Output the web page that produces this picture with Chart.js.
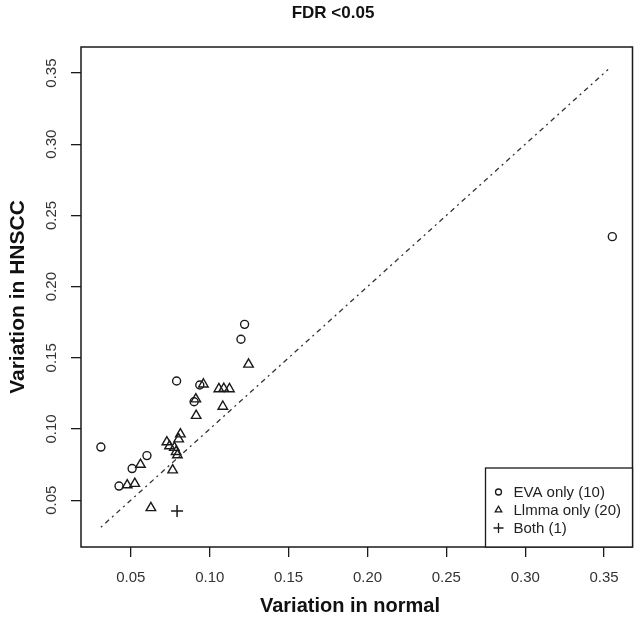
<!DOCTYPE html>
<html>
<head>
<meta charset="utf-8">
<script src="https://cdn.jsdelivr.net/npm/chart.js@4/dist/chart.umd.min.js"></script>
<style>
  html, body { margin: 0; padding: 0; background: #fff; }
  #wrap { width: 640px; height: 621px; }
</style>
</head>
<body>
<div id="wrap"><canvas id="chart" width="640" height="621"></canvas></div>
<script>
// tick labels
const xTicks = [0.05, 0.10, 0.15, 0.20, 0.25, 0.30, 0.35];
const yTicks = [0.05, 0.10, 0.15, 0.20, 0.25, 0.30, 0.35];

// EVA only (10)
const evaX = [0.1221, 0.1198, 0.0790, 0.0937, 0.0901, 0.0310, 0.0602, 0.0508, 0.0425, 0.3552];
const evaY = [0.1735, 0.1630, 0.1337, 0.1309, 0.1191, 0.0873, 0.0813, 0.0722, 0.0599, 0.2351];

// Llmma only (20)
const limmaX = [0.1246, 0.0960, 0.1058, 0.1089, 0.1125, 0.0912, 0.1083, 0.0914, 0.0814, 0.0803,
                0.0728, 0.0745, 0.0776, 0.0787, 0.0561, 0.0765, 0.0477, 0.0525, 0.0627, 0.0795];
const limmaY = [0.1454, 0.1314, 0.1281, 0.1284, 0.1281, 0.1210, 0.1158, 0.1094, 0.0964, 0.0929,
                0.0908, 0.0880, 0.0869, 0.0840, 0.0750, 0.0711, 0.0606, 0.0616, 0.0446, 0.0817];

// Both (1)
const bothX = [0.0793];
const bothY = [0.0423];

// y = x reference line
const diagX = [0.031, 0.3525];
const diagY = [0.031, 0.3525];

const legendLabels = ['EVA only (10)', 'Llmma only (20)', 'Both (1)'];

const toPoints = (xs, ys) => xs.map((x, i) => ({ x: x, y: ys[i] }));
const FONT = '"Liberation Sans", Arial, Helvetica, sans-serif';
const INK = '#1a1a1a';

const framePlugin = {
  id: 'frame',
  afterDraw(chart) {
    const ctx = chart.ctx;
    const a = chart.chartArea;
    const yScale = chart.scales.y;
    ctx.save();

    // plot box
    ctx.strokeStyle = INK;
    ctx.lineWidth = 1.5;
    ctx.strokeRect(a.left, a.top, a.right - a.left, a.bottom - a.top);

    // y tick labels, rotated like R
    ctx.fillStyle = '#333';
    ctx.font = '15px ' + FONT;
    ctx.textAlign = 'center';
    ctx.textBaseline = 'middle';
    yTicks.forEach(v => {
      const py = yScale.getPixelForValue(v);
      ctx.save();
      ctx.translate(52, py);
      ctx.rotate(-Math.PI / 2);
      ctx.fillText(v.toFixed(2), 0, 0);
      ctx.restore();
    });

    // titles
    ctx.fillStyle = '#111';
    ctx.font = 'bold 17px ' + FONT;
    ctx.fillText('FDR <0.05', 333, 13);
    ctx.font = 'bold 20px ' + FONT;
    ctx.fillText('Variation in normal', 350, 606);
    ctx.save();
    ctx.translate(18, (a.top + a.bottom) / 2);
    ctx.rotate(-Math.PI / 2);
    ctx.font = 'bold 21px ' + FONT;
    ctx.fillText('Variation in HNSCC', 0, 0);
    ctx.restore();

    // legend box in bottom right corner
    const lw = 147, lh = 79;
    const lx = a.right - lw, ly = a.bottom - lh;
    ctx.fillStyle = '#fff';
    ctx.fillRect(lx, ly, lw, lh);
    ctx.strokeStyle = INK;
    ctx.lineWidth = 1.3;
    ctx.strokeRect(lx, ly, lw, lh);

    const styles = ['circle', 'triangle', 'cross'];
    const radii = [3, 3.8, 5];
    ctx.font = '15px ' + FONT;
    ctx.textAlign = 'left';
    legendLabels.forEach((label, i) => {
      const cy = ly + 24 + i * 18;
      ctx.fillStyle = 'rgba(0,0,0,0)';
      ctx.strokeStyle = INK;
      Chart.helpers.drawPoint(ctx, {
        pointStyle: styles[i], radius: radii[i], borderWidth: 1.3
      }, lx + 13, cy);
      ctx.fillStyle = '#222';
      ctx.fillText(label, lx + 28, cy + 1);
    });
    ctx.restore();
  }
};

const axisCommon = {
  type: 'linear',
  grid: { drawOnChartArea: false, drawTicks: true, tickLength: 10, color: INK, lineWidth: 1.3 },
  border: { display: false }
};

new Chart(document.getElementById('chart'), {
  type: 'scatter',
  data: {
    datasets: [
      {
        label: 'diag',
        data: toPoints(diagX, diagY),
        showLine: true,
        pointRadius: 0,
        borderColor: '#333',
        borderWidth: 1.3,
        borderDash: [2, 4, 5, 4]
      },
      {
        label: legendLabels[0],
        data: toPoints(evaX, evaY),
        pointStyle: 'circle',
        pointRadius: 4,
        borderColor: INK,
        backgroundColor: 'rgba(0,0,0,0)',
        borderWidth: 1.4
      },
      {
        label: legendLabels[1],
        data: toPoints(limmaX, limmaY),
        pointStyle: 'triangle',
        pointRadius: 5.5,
        borderColor: INK,
        backgroundColor: 'rgba(0,0,0,0)',
        borderWidth: 1.4
      },
      {
        label: legendLabels[2],
        data: toPoints(bothX, bothY),
        pointStyle: 'cross',
        pointRadius: 6,
        borderColor: INK,
        borderWidth: 1.5
      }
    ]
  },
  options: {
    responsive: false,
    animation: false,
    devicePixelRatio: 1,
    layout: { padding: { top: 47, right: 2, left: 0, bottom: 0 } },
    plugins: { legend: { display: false }, tooltip: { enabled: false } },
    scales: {
      x: {
        ...axisCommon,
        min: 0.0184,
        max: 0.368,
        afterBuildTicks: s => { s.ticks = xTicks.map(v => ({ value: v })); },
        afterFit: s => { s.height = 74; },
        ticks: {
          autoSkip: false, maxRotation: 0, padding: 12,
          color: '#333', font: { family: FONT, size: 15 },
          callback: v => v.toFixed(2)
        }
      },
      y: {
        ...axisCommon,
        min: 0.0171,
        max: 0.3683,
        afterBuildTicks: s => { s.ticks = yTicks.map(v => ({ value: v })); },
        afterFit: s => { s.width = 81; },
        ticks: { autoSkip: false, callback: () => '' }
      }
    }
  },
  plugins: [framePlugin]
});
</script>
</body>
</html>
